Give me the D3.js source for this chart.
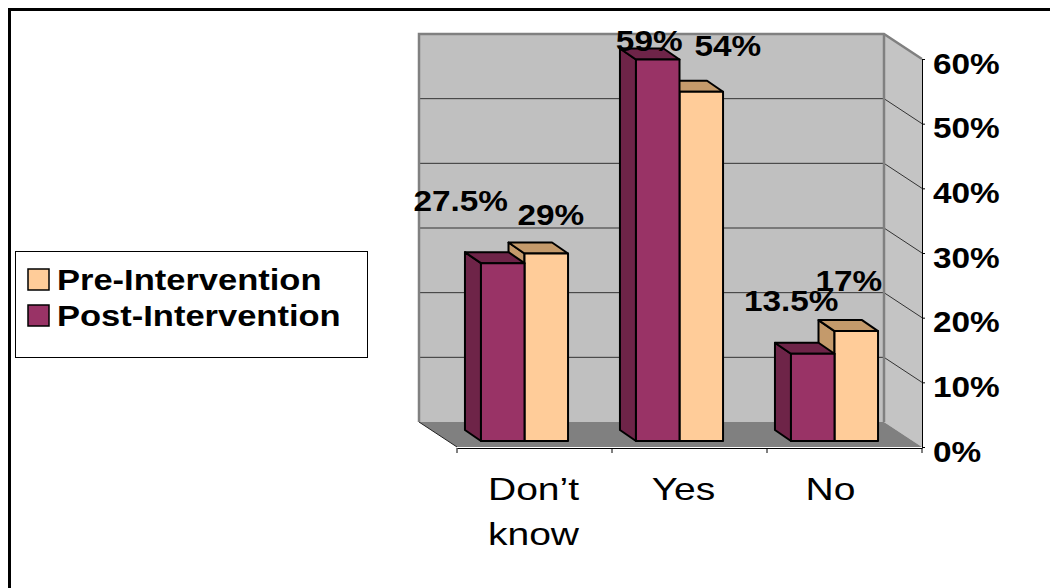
<!DOCTYPE html>
<html>
<head>
<meta charset="utf-8">
<script src="https://cdn.jsdelivr.net/npm/d3@7/dist/d3.min.js"></script>
<style>
  html, body { margin: 0; padding: 0; background: #fff; }
  svg { display: block; }
  text { font-family: "Liberation Sans", Arial, sans-serif; fill: #000; }
</style>
</head>
<body>
<script>
// ---- data ----
const categories = ["Don’t know", "Yes", "No"];
const seriesNames = ["Pre-Intervention", "Post-Intervention"];
const preValues = [29, 54, 17];
const postValues = [27.5, 59, 13.5];
const yTicks = [0, 10, 20, 30, 40, 50, 60];

// ---- styling / layout ----
const W = 1050, H = 588;
const colors = {
  pre:  { front: "#ffcc99", shade: "#c49a6b" },
  post: { front: "#993366", shade: "#6e2448" }
};
const depth = [-38, -25];     // floor depth (front edge -> back wall)
const barShift = [-10, -6];   // front plane of the bars, inside the floor
const barDepth = [-16, -11];  // thickness of each bar
// hand-placed data labels: [dx, dy] from the top-front centre of each bar
const labelNudge = {
  post: [[-42, -52], [-8.5, -8], [-21.5, -43]],
  pre:  [[4.5, -28], [26.5, -36], [-7.5, -40]]
};
// horizontal nudge of each category label from its band centre
const catNudge = [-1, -6, -14];

const svg = d3.select("body").append("svg").attr("width", W).attr("height", H);

// outer frame
svg.append("line").attr("x1", 8).attr("x2", W).attr("y1", 9.5).attr("y2", 9.5)
  .attr("stroke", "#000").attr("stroke-width", 3);
svg.append("line").attr("x1", 9.5).attr("x2", 9.5).attr("y1", 8).attr("y2", H)
  .attr("stroke", "#000").attr("stroke-width", 3);

const x = d3.scaleBand().domain(categories).range([457, 922]);
const y = d3.scaleLinear().domain([0, 60]).range([447, 59]);
const sub = d3.scaleBand().domain(["post", "pre"]).range([0, x.bandwidth()]).paddingOuter(0.78);

const X0 = x.range()[0], X1 = x.range()[1];
const Y0 = y(0), Y60 = y(60);
const bx0 = X0 + depth[0], bx1 = X1 + depth[0];
const pts = a => a.map(p => p.join(",")).join(" ");

// ---- walls & floor ----
const walls = svg.append("g");
walls.append("rect")
  .attr("x", bx0).attr("y", Y60 + depth[1])
  .attr("width", bx1 - bx0).attr("height", Y0 - Y60)
  .attr("fill", "#c0c0c0");
walls.append("polygon")
  .attr("points", pts([[bx1, Y60 + depth[1]], [X1, Y60], [X1, Y0], [bx1, Y0 + depth[1]]]))
  .attr("fill", "#c4c4c4");

// gridlines on back and side walls
yTicks.filter(t => t > 0 && t < 60).forEach(t => {
  walls.append("polyline")
    .attr("points", pts([[bx0, y(t) + depth[1]], [bx1, y(t) + depth[1]], [X1, y(t)]]))
    .attr("fill", "none").attr("stroke", "#333").attr("stroke-width", 1);
});

// floor
walls.append("polygon")
  .attr("points", pts([[bx0, Y0 + depth[1]], [bx1, Y0 + depth[1]], [X1, Y0], [X0, Y0]]))
  .attr("fill", "#808080");
walls.append("line")
  .attr("x1", bx0).attr("y1", Y0 + depth[1]).attr("x2", X0).attr("y2", Y0)
  .attr("stroke", "#222").attr("stroke-width", 1);

// wall edges
walls.append("polyline")
  .attr("points", pts([[bx0, Y0 + depth[1]], [bx0, Y60 + depth[1]], [bx1, Y60 + depth[1]], [X1, Y60]]))
  .attr("fill", "none").attr("stroke", "#808080").attr("stroke-width", 2.5);
walls.append("line")
  .attr("x1", bx1).attr("y1", Y60 + depth[1]).attr("x2", bx1).attr("y2", Y0 + depth[1])
  .attr("stroke", "#808080").attr("stroke-width", 2.5);

// ---- bars ----
const rows = categories.flatMap((c, i) => [
  { c, i, s: "pre", v: preValues[i] },
  { c, i, s: "post", v: postValues[i] }
]);

const bars = svg.append("g").selectAll("g").data(rows).join("g");
bars.each(function (d) {
  const g = d3.select(this);
  const left = x(d.c) + barShift[0] + sub(d.s);
  const w = sub.bandwidth();
  const yb = y(0) + barShift[1];
  const yt = y(d.v) + barShift[1];
  const [dx, dy] = barDepth;
  const col = colors[d.s];
  const style = sel => sel.attr("stroke", "#000").attr("stroke-width", 2).attr("stroke-linejoin", "round");
  g.append("polygon")
    .attr("points", pts([[left, yt], [left + dx, yt + dy], [left + dx, yb + dy], [left, yb]]))
    .attr("fill", col.shade).call(style);
  g.append("polygon")
    .attr("points", pts([[left, yt], [left + w, yt], [left + w + dx, yt + dy], [left + dx, yt + dy]]))
    .attr("fill", col.shade).call(style);
  g.append("rect")
    .attr("x", left).attr("y", yt).attr("width", w).attr("height", yb - yt)
    .attr("fill", col.front).call(style);
});

// ---- data labels ----
const fmt = v => v + "%";
svg.append("g").selectAll("text").data(rows).join("text")
  .attr("transform", d => {
    const cx = x(d.c) + barShift[0] + sub(d.s) + sub.bandwidth() / 2;
    const ty = y(d.v) + barShift[1];
    const [nx, ny] = labelNudge[d.s][d.i];
    return `translate(${cx + nx},${ty + ny}) scale(1.15,1)`;
  })
  .attr("text-anchor", "middle")
  .attr("font-size", 29).attr("font-weight", "bold")
  .text(d => fmt(d.v));

// ---- value axis (right side) ----
const yAxis = d3.axisRight(y).tickValues(yTicks).tickFormat(fmt).tickSize(3).tickSizeOuter(0);
const ya = svg.append("g").attr("transform", `translate(${X1},0)`).call(yAxis);
ya.select(".domain").attr("stroke", "#000").attr("stroke-width", 1);
ya.selectAll(".tick line").attr("stroke", "#000");
ya.selectAll(".tick text")
  .attr("x", 0).attr("dy", null).attr("y", 14)
  .attr("transform", "translate(11,0) scale(1.15,1)")
  .attr("font-family", "Liberation Sans, Arial, sans-serif")
  .attr("font-size", 29).attr("font-weight", "bold").attr("fill", "#000");

// ---- category axis ----
const xAxis = d3.axisBottom(x).tickSize(0).tickSizeOuter(0).tickFormat("");
const xa = svg.append("g").attr("transform", `translate(0,${Y0 + 1})`).call(xAxis);
xa.select(".domain").attr("stroke", "#000").attr("stroke-width", 1);
const bounds = categories.map(c => x(c)).concat([X1]);
xa.selectAll(".bound").data(bounds).join("line")
  .attr("x1", d => d).attr("x2", d => d).attr("y1", 0).attr("y2", 5)
  .attr("stroke", "#000");

svg.append("g").selectAll("text").data(categories).join("text")
  .attr("transform", (c, k) => `translate(${x(c) + x.bandwidth() / 2 + catNudge[k]},500) scale(1.22,1)`)
  .attr("text-anchor", "middle")
  .attr("font-size", 32)
  .each(function (c) {
    const words = c.split(" ");
    d3.select(this).selectAll("tspan").data(words).join("tspan")
      .attr("x", 0).attr("y", (w, k) => k * 45).text(w => w);
  });

// ---- legend ----
const legend = svg.append("g");
legend.append("rect")
  .attr("x", 15.5).attr("y", 251.5).attr("width", 352).attr("height", 106)
  .attr("fill", "#fff").attr("stroke", "#000").attr("stroke-width", 1);
const legendKeys = ["pre", "post"];
const li = legend.selectAll("g").data(seriesNames).join("g")
  .attr("transform", (d, k) => `translate(28,${269 + k * 36})`);
li.append("rect")
  .attr("width", 21).attr("height", 21)
  .attr("fill", (d, k) => colors[legendKeys[k]].front)
  .attr("stroke", "#000").attr("stroke-width", 1.5);
li.append("text")
  .attr("transform", "translate(29,21) scale(1.19,1)")
  .attr("font-size", 29).attr("font-weight", "bold")
  .text(d => d);
</script>
</body>
</html>
